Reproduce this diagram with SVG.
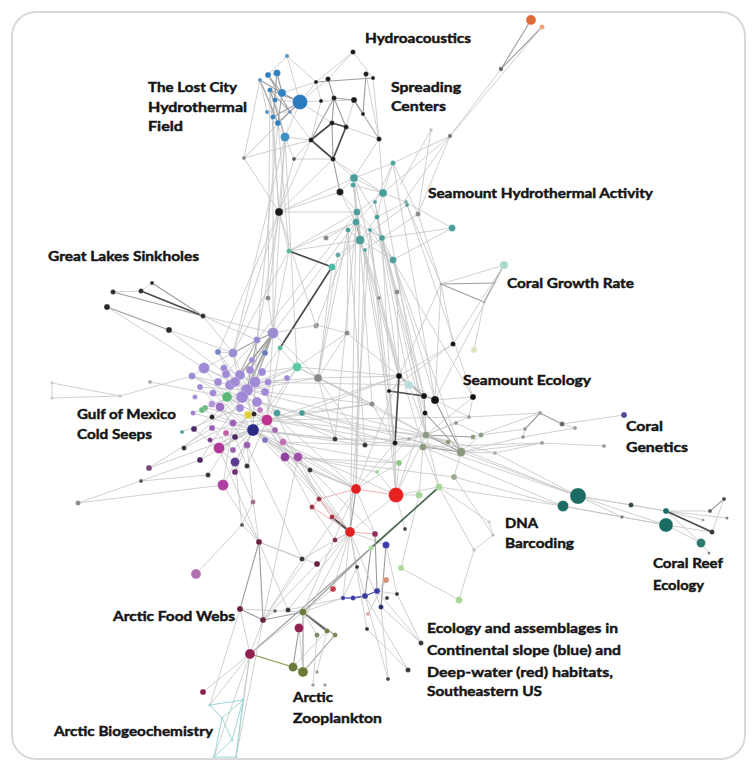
<svg xmlns="http://www.w3.org/2000/svg" width="752" height="765" viewBox="0 0 752 765">
<style>
.e line{stroke:#c4c4c4;stroke-width:.8}
line.m{stroke:#9c9c9c;stroke-width:1.1}
line.d{stroke:#4a4a4a;stroke-width:1.7}
line.p{stroke:#e6a8a8;stroke-width:.9}
line.b{stroke:#4848b0;stroke-width:1.3}
line.c{stroke:#9fd6d6;stroke-width:1}
line.o{stroke:#8a9a50;stroke-width:1.2}
line.g{stroke:#4e6a50;stroke-width:1.7}
circle{stroke:#fff;stroke-width:.4;stroke-opacity:.6}
.lbl{font-family:Lato,"Open Sans","Liberation Sans",sans-serif;font-weight:700;font-size:14px;fill:#151515;stroke:#151515;stroke-width:.45}
</style>
<rect x="12" y="12" width="733" height="747" rx="24" fill="#fff" stroke="#d9d9d9" stroke-width="2"/>
<g id="connectors" class="e">
<line x1="531" y1="20" x2="501" y2="69" class="m"/><line x1="542" y1="27" x2="501" y2="69" class="m"/><line x1="542" y1="27" x2="450" y2="136"/><line x1="501" y1="69" x2="450" y2="136"/><line x1="450" y1="136" x2="393" y2="163"/><line x1="450" y1="136" x2="383" y2="193"/><line x1="450" y1="136" x2="405" y2="200"/><line x1="431" y1="130" x2="400" y2="185"/><line x1="431" y1="130" x2="418" y2="214"/><line x1="450" y1="136" x2="418" y2="214"/>
<line x1="353" y1="52" x2="316" y2="82"/><line x1="353" y1="52" x2="328" y2="79"/><line x1="353" y1="52" x2="373" y2="78"/><line x1="316" y1="82" x2="373" y2="78" class="m"/><line x1="366" y1="74" x2="363" y2="114" class="m"/><line x1="373" y1="78" x2="379" y2="139"/><line x1="366" y1="74" x2="379" y2="139"/><line x1="328" y1="79" x2="334" y2="98" class="m"/><line x1="316" y1="82" x2="321" y2="101"/><line x1="321" y1="101" x2="354" y2="100"/><line x1="334" y1="98" x2="354" y2="100" class="m"/><line x1="354" y1="100" x2="363" y2="114" class="m"/><line x1="354" y1="100" x2="379" y2="139" class="m"/><line x1="363" y1="114" x2="379" y2="139"/><line x1="334" y1="98" x2="346" y2="127" class="m"/><line x1="321" y1="101" x2="311" y2="140"/><line x1="334" y1="98" x2="311" y2="140" class="m"/><line x1="354" y1="100" x2="346" y2="127"/><line x1="311" y1="140" x2="294" y2="159"/><line x1="294" y1="159" x2="333" y2="159"/><line x1="244" y1="158" x2="311" y2="140"/><line x1="244" y1="158" x2="300" y2="102"/><line x1="244" y1="158" x2="279" y2="212"/><line x1="244" y1="158" x2="290" y2="112"/><line x1="333" y1="159" x2="340" y2="192" class="m"/><line x1="333" y1="159" x2="354" y2="178"/><line x1="333" y1="159" x2="383" y2="193"/><line x1="379" y1="139" x2="383" y2="193"/><line x1="379" y1="139" x2="354" y2="178"/><line x1="346" y1="127" x2="379" y2="139"/><line x1="311" y1="140" x2="279" y2="212"/><line x1="294" y1="159" x2="279" y2="212"/><line x1="333" y1="159" x2="279" y2="212"/><line x1="340" y1="192" x2="279" y2="212"/><line x1="340" y1="192" x2="357" y2="212"/><line x1="340" y1="192" x2="354" y2="178"/><line x1="316" y1="82" x2="300" y2="102"/><line x1="316" y1="82" x2="282" y2="93"/><line x1="328" y1="79" x2="300" y2="102"/><line x1="287" y1="56" x2="316" y2="82"/><line x1="300" y1="102" x2="321" y2="101"/><line x1="290" y1="112" x2="311" y2="140"/><line x1="285" y1="137" x2="311" y2="140"/><line x1="285" y1="137" x2="294" y2="159"/><line x1="285" y1="137" x2="279" y2="212"/><line x1="270" y1="90" x2="279" y2="212"/><line x1="273" y1="117" x2="279" y2="212"/><line x1="300" y1="102" x2="332" y2="123"/>
<line x1="311" y1="140" x2="332" y2="123" class="d"/><line x1="332" y1="123" x2="346" y2="127" class="d"/><line x1="346" y1="127" x2="333" y2="159" class="d"/><line x1="311" y1="140" x2="333" y2="159" class="d"/><line x1="332" y1="123" x2="333" y2="159" class="m"/><line x1="334" y1="98" x2="332" y2="123" class="m"/>
<line x1="287" y1="56" x2="268" y2="75"/><line x1="287" y1="56" x2="300" y2="102"/><line x1="268" y1="75" x2="277" y2="73"/><line x1="277" y1="73" x2="282" y2="93" class="m"/><line x1="268" y1="75" x2="282" y2="93" class="m"/><line x1="260" y1="80" x2="282" y2="93" class="m"/><line x1="282" y1="93" x2="300" y2="102" class="m"/><line x1="270" y1="90" x2="300" y2="102" class="m"/><line x1="270" y1="90" x2="285" y2="137" class="m"/><line x1="273" y1="117" x2="300" y2="102" class="m"/><line x1="278" y1="123" x2="300" y2="102" class="m"/><line x1="267" y1="112" x2="290" y2="112"/><line x1="282" y1="93" x2="278" y2="123" class="m"/><line x1="285" y1="137" x2="300" y2="102"/><line x1="260" y1="80" x2="278" y2="123" class="m"/><line x1="268" y1="75" x2="290" y2="112" class="m"/><line x1="277" y1="73" x2="273" y2="117" class="m"/><line x1="275" y1="100" x2="300" y2="102"/><line x1="260" y1="80" x2="267" y2="112"/><line x1="270" y1="90" x2="290" y2="112" class="m"/><line x1="275" y1="100" x2="285" y2="137"/><line x1="267" y1="112" x2="285" y2="137"/>
<line x1="273" y1="117" x2="273" y2="333"/><line x1="278" y1="123" x2="257" y2="340"/><line x1="270" y1="90" x2="268" y2="298"/><line x1="285" y1="137" x2="273" y2="333"/><line x1="260" y1="80" x2="244" y2="158"/><line x1="285" y1="137" x2="233" y2="353"/><line x1="278" y1="123" x2="289" y2="251"/><line x1="285" y1="137" x2="297" y2="367"/>
<line x1="354" y1="178" x2="383" y2="193"/><line x1="354" y1="178" x2="357" y2="212"/><line x1="354" y1="178" x2="356" y2="222"/><line x1="383" y1="193" x2="357" y2="212"/><line x1="383" y1="193" x2="377" y2="217"/><line x1="383" y1="193" x2="393" y2="163"/><line x1="393" y1="163" x2="375" y2="202"/><line x1="357" y1="212" x2="360" y2="240" class="m"/><line x1="356" y1="222" x2="360" y2="240" class="m"/><line x1="377" y1="217" x2="382" y2="238"/><line x1="370" y1="230" x2="382" y2="238"/><line x1="360" y1="240" x2="393" y2="260"/><line x1="382" y1="238" x2="393" y2="260"/><line x1="375" y1="202" x2="356" y2="222"/><line x1="406" y1="202" x2="377" y2="217"/><line x1="407" y1="205" x2="360" y2="240"/><line x1="418" y1="214" x2="382" y2="238"/><line x1="452" y1="228" x2="382" y2="238"/><line x1="452" y1="228" x2="393" y2="260"/><line x1="353" y1="185" x2="383" y2="193"/><line x1="348" y1="230" x2="360" y2="240"/><line x1="365" y1="250" x2="382" y2="238"/><line x1="340" y1="192" x2="356" y2="222"/><line x1="326" y1="238" x2="356" y2="222"/><line x1="338" y1="255" x2="360" y2="240"/><line x1="332" y1="267" x2="360" y2="240"/><line x1="289" y1="251" x2="360" y2="240"/><line x1="289" y1="251" x2="356" y2="222"/><line x1="289" y1="251" x2="357" y2="212"/><line x1="279" y1="212" x2="357" y2="212"/><line x1="279" y1="212" x2="354" y2="178"/><line x1="279" y1="212" x2="289" y2="251"/><line x1="393" y1="163" x2="418" y2="214"/><line x1="406" y1="202" x2="452" y2="228"/><line x1="383" y1="193" x2="406" y2="202"/><line x1="354" y1="178" x2="393" y2="163"/><line x1="370" y1="230" x2="393" y2="260"/><line x1="356" y1="222" x2="393" y2="260"/><line x1="357" y1="212" x2="382" y2="238"/><line x1="356" y1="222" x2="382" y2="238"/><line x1="360" y1="240" x2="377" y2="217"/><line x1="353" y1="185" x2="360" y2="240"/><line x1="375" y1="202" x2="382" y2="238"/><line x1="354" y1="178" x2="377" y2="217"/>
<line x1="360" y1="240" x2="399" y2="376"/><line x1="370" y1="230" x2="395" y2="443"/><line x1="382" y1="238" x2="424" y2="396"/><line x1="356" y1="222" x2="350" y2="532"/><line x1="365" y1="250" x2="389" y2="391"/><line x1="393" y1="260" x2="435" y2="400"/><line x1="360" y1="240" x2="379" y2="298"/><line x1="382" y1="238" x2="397" y2="292"/><line x1="348" y1="230" x2="347" y2="333"/><line x1="356" y1="222" x2="316" y2="326"/><line x1="338" y1="255" x2="318" y2="378"/><line x1="393" y1="260" x2="473" y2="397"/><line x1="418" y1="214" x2="441" y2="284"/><line x1="407" y1="205" x2="441" y2="284"/><line x1="379" y1="298" x2="399" y2="376"/><line x1="397" y1="292" x2="399" y2="376"/><line x1="347" y1="333" x2="399" y2="376"/><line x1="332" y1="267" x2="318" y2="378"/><line x1="360" y1="240" x2="356" y2="489"/><line x1="370" y1="230" x2="396" y2="495"/><line x1="382" y1="238" x2="426" y2="435"/><line x1="365" y1="250" x2="423" y2="447"/><line x1="356" y1="222" x2="273" y2="333"/><line x1="357" y1="212" x2="257" y2="340"/><line x1="279" y1="212" x2="233" y2="353"/><line x1="279" y1="212" x2="257" y2="340"/><line x1="279" y1="212" x2="218" y2="352"/>
<line x1="354" y1="178" x2="399" y2="376"/><line x1="357" y1="212" x2="395" y2="443"/><line x1="377" y1="217" x2="425" y2="413"/><line x1="393" y1="163" x2="435" y2="400"/><line x1="383" y1="193" x2="426" y2="435"/><line x1="360" y1="240" x2="372" y2="404"/><line x1="348" y1="230" x2="365" y2="445"/><line x1="356" y1="222" x2="335" y2="439"/><line x1="375" y1="202" x2="399" y2="376"/><line x1="393" y1="260" x2="424" y2="396"/><line x1="365" y1="250" x2="356" y2="489"/><line x1="370" y1="230" x2="350" y2="532"/><line x1="382" y1="238" x2="396" y2="495"/><line x1="393" y1="260" x2="461" y2="452"/><line x1="406" y1="202" x2="473" y2="397"/><line x1="377" y1="217" x2="409" y2="385"/><line x1="348" y1="230" x2="318" y2="378"/>
<line x1="441" y1="284" x2="494" y2="283" class="m"/><line x1="441" y1="284" x2="484" y2="302" class="m"/><line x1="441" y1="284" x2="504" y2="265"/><line x1="494" y1="283" x2="504" y2="265"/><line x1="484" y1="302" x2="504" y2="265" class="m"/><line x1="504" y1="265" x2="453" y2="344"/><line x1="453" y1="344" x2="399" y2="376"/><line x1="453" y1="344" x2="389" y2="391"/><line x1="441" y1="284" x2="435" y2="400"/><line x1="441" y1="284" x2="453" y2="344"/><line x1="484" y1="302" x2="474" y2="350"/><line x1="441" y1="284" x2="399" y2="376"/><line x1="504" y1="265" x2="435" y2="400"/>
<line x1="317" y1="325" x2="347" y2="333"/><line x1="316" y1="326" x2="279" y2="212"/><line x1="268" y1="298" x2="279" y2="212"/><line x1="268" y1="298" x2="273" y2="333"/><line x1="289" y1="251" x2="273" y2="333"/><line x1="289" y1="251" x2="233" y2="353"/>
<line x1="289" y1="251" x2="332" y2="267" class="d"/><line x1="332" y1="267" x2="280" y2="348" class="d"/>
<line x1="113" y1="292" x2="141" y2="291"/><line x1="113" y1="292" x2="203" y2="316" class="m"/><line x1="141" y1="291" x2="203" y2="316" class="d"/><line x1="152" y1="283" x2="203" y2="316" class="m"/><line x1="107" y1="307" x2="169" y2="330" class="m"/><line x1="169" y1="330" x2="233" y2="353"/><line x1="169" y1="330" x2="247" y2="390"/><line x1="203" y1="316" x2="273" y2="333"/><line x1="203" y1="316" x2="233" y2="353"/><line x1="203" y1="316" x2="257" y2="340"/><line x1="152" y1="283" x2="141" y2="291"/><line x1="107" y1="307" x2="204" y2="368"/>
<line x1="52" y1="383" x2="52" y2="398"/><line x1="52" y1="383" x2="120" y2="396"/><line x1="52" y1="398" x2="120" y2="396"/><line x1="120" y1="396" x2="192" y2="376"/><line x1="150" y1="382" x2="227" y2="397"/><line x1="78" y1="503" x2="200" y2="460"/><line x1="78" y1="503" x2="223" y2="485"/><line x1="141" y1="481" x2="208" y2="475"/><line x1="149" y1="468" x2="212" y2="428"/><line x1="149" y1="468" x2="235" y2="437"/>
<line x1="273" y1="333" x2="235" y2="382" class="m"/><line x1="273" y1="333" x2="247" y2="390" class="m"/><line x1="273" y1="333" x2="242" y2="397" class="m"/><line x1="273" y1="333" x2="255" y2="382" class="m"/><line x1="273" y1="333" x2="230" y2="385"/><line x1="257" y1="340" x2="235" y2="382" class="m"/><line x1="257" y1="340" x2="247" y2="390" class="m"/><line x1="257" y1="340" x2="227" y2="397"/><line x1="257" y1="340" x2="273" y2="333" class="m"/><line x1="233" y1="353" x2="257" y2="340" class="m"/><line x1="233" y1="353" x2="247" y2="390"/><line x1="233" y1="353" x2="204" y2="368"/><line x1="218" y1="352" x2="233" y2="353"/><line x1="265" y1="353" x2="255" y2="382"/><line x1="280" y1="348" x2="255" y2="382"/><line x1="280" y1="348" x2="297" y2="367"/><line x1="297" y1="367" x2="247" y2="390"/><line x1="297" y1="367" x2="318" y2="378"/><line x1="204" y1="368" x2="192" y2="376"/><line x1="204" y1="368" x2="235" y2="382"/><line x1="224" y1="368" x2="247" y2="390"/><line x1="192" y1="376" x2="242" y2="397"/><line x1="200" y1="387" x2="247" y2="390"/><line x1="213" y1="393" x2="257" y2="402"/><line x1="205" y1="408" x2="247" y2="390"/><line x1="220" y1="407" x2="253" y2="430"/><line x1="227" y1="397" x2="267" y2="420"/><line x1="242" y1="397" x2="267" y2="420"/><line x1="247" y1="390" x2="253" y2="430"/><line x1="255" y1="382" x2="253" y2="430"/><line x1="257" y1="402" x2="285" y2="457"/><line x1="265" y1="392" x2="298" y2="457"/><line x1="248" y1="415" x2="219" y2="448"/><line x1="253" y1="430" x2="219" y2="448"/><line x1="253" y1="430" x2="235" y2="462"/><line x1="253" y1="430" x2="285" y2="457"/><line x1="253" y1="430" x2="298" y2="457"/><line x1="267" y1="420" x2="298" y2="457"/><line x1="267" y1="420" x2="283" y2="442"/><line x1="233" y1="423" x2="223" y2="485"/><line x1="212" y1="428" x2="233" y2="450"/><line x1="235" y1="437" x2="247" y2="466"/><line x1="194" y1="429" x2="247" y2="390"/><line x1="184" y1="448" x2="247" y2="390"/><line x1="200" y1="460" x2="247" y2="390"/><line x1="208" y1="475" x2="248" y2="415"/><line x1="223" y1="485" x2="253" y2="430"/><line x1="235" y1="472" x2="253" y2="430"/><line x1="210" y1="440" x2="253" y2="430"/><line x1="182" y1="432" x2="240" y2="408"/><line x1="193" y1="413" x2="247" y2="390"/><line x1="202" y1="410" x2="253" y2="430"/><line x1="262" y1="372" x2="297" y2="367"/><line x1="240" y1="375" x2="273" y2="333" class="m"/><line x1="250" y1="370" x2="273" y2="333" class="m"/><line x1="218" y1="382" x2="257" y2="340"/><line x1="265" y1="440" x2="298" y2="457"/>
<line x1="204" y1="368" x2="247" y2="390"/><line x1="192" y1="376" x2="230" y2="385"/><line x1="218" y1="352" x2="247" y2="390"/><line x1="224" y1="368" x2="255" y2="382"/><line x1="240" y1="375" x2="265" y2="392"/><line x1="250" y1="370" x2="242" y2="397"/><line x1="213" y1="393" x2="253" y2="430"/><line x1="200" y1="387" x2="233" y2="423"/><line x1="193" y1="413" x2="253" y2="430"/><line x1="205" y1="408" x2="267" y2="420"/><line x1="220" y1="407" x2="247" y2="445"/><line x1="233" y1="423" x2="267" y2="420"/><line x1="219" y1="448" x2="267" y2="420"/><line x1="212" y1="428" x2="253" y2="430"/><line x1="235" y1="437" x2="267" y2="420"/><line x1="233" y1="450" x2="253" y2="430"/><line x1="200" y1="460" x2="253" y2="430"/><line x1="184" y1="448" x2="233" y2="423"/><line x1="194" y1="429" x2="235" y2="462"/><line x1="247" y1="466" x2="267" y2="420"/><line x1="283" y1="442" x2="298" y2="457"/><line x1="275" y1="430" x2="253" y2="430"/><line x1="277" y1="413" x2="247" y2="390"/><line x1="302" y1="413" x2="267" y2="420"/><line x1="287" y1="378" x2="247" y2="390"/><line x1="262" y1="372" x2="242" y2="397"/><line x1="265" y1="353" x2="247" y2="390"/><line x1="280" y1="348" x2="267" y2="420"/><line x1="297" y1="367" x2="267" y2="420"/><line x1="297" y1="367" x2="253" y2="430"/><line x1="273" y1="333" x2="267" y2="420"/><line x1="257" y1="340" x2="253" y2="430"/><line x1="233" y1="353" x2="242" y2="397"/><line x1="218" y1="352" x2="242" y2="397"/><line x1="204" y1="368" x2="253" y2="430"/><line x1="192" y1="376" x2="267" y2="420"/>
<line x1="253" y1="430" x2="335" y2="439"/><line x1="253" y1="430" x2="365" y2="445"/><line x1="267" y1="420" x2="372" y2="404"/><line x1="267" y1="420" x2="399" y2="376"/><line x1="255" y1="382" x2="318" y2="378"/><line x1="247" y1="390" x2="372" y2="404"/><line x1="247" y1="390" x2="426" y2="435"/><line x1="253" y1="430" x2="423" y2="447"/><line x1="267" y1="420" x2="461" y2="452"/><line x1="257" y1="402" x2="409" y2="439"/><line x1="253" y1="430" x2="356" y2="489"/><line x1="285" y1="457" x2="356" y2="489"/><line x1="298" y1="457" x2="350" y2="532"/><line x1="298" y1="457" x2="319" y2="499"/><line x1="285" y1="457" x2="312" y2="507"/><line x1="247" y1="445" x2="253" y2="502"/><line x1="235" y1="462" x2="253" y2="502"/><line x1="253" y1="430" x2="310" y2="470"/><line x1="302" y1="413" x2="399" y2="376"/><line x1="277" y1="413" x2="335" y2="439"/><line x1="318" y1="378" x2="372" y2="404"/><line x1="318" y1="378" x2="399" y2="376"/><line x1="273" y1="333" x2="317" y2="325"/><line x1="297" y1="367" x2="347" y2="333"/><line x1="318" y1="378" x2="365" y2="445"/><line x1="318" y1="378" x2="426" y2="435"/><line x1="318" y1="378" x2="347" y2="333"/><line x1="372" y1="404" x2="426" y2="435"/><line x1="372" y1="404" x2="395" y2="443"/><line x1="365" y1="445" x2="426" y2="435"/><line x1="335" y1="439" x2="409" y2="439"/><line x1="310" y1="470" x2="356" y2="489"/><line x1="267" y1="420" x2="469" y2="417"/><line x1="255" y1="382" x2="409" y2="385"/><line x1="283" y1="442" x2="423" y2="447"/><line x1="298" y1="457" x2="454" y2="477"/><line x1="285" y1="457" x2="399" y2="463"/><line x1="302" y1="413" x2="448" y2="442"/>
<line x1="247" y1="390" x2="356" y2="489"/><line x1="242" y1="397" x2="350" y2="532"/><line x1="253" y1="430" x2="396" y2="495"/><line x1="219" y1="448" x2="259" y2="542"/><line x1="223" y1="485" x2="259" y2="542"/><line x1="235" y1="462" x2="242" y2="525"/><line x1="298" y1="457" x2="263" y2="620"/><line x1="253" y1="430" x2="319" y2="499"/><line x1="267" y1="420" x2="332" y2="517"/><line x1="285" y1="457" x2="350" y2="532"/><line x1="247" y1="445" x2="302" y2="559"/><line x1="298" y1="457" x2="375" y2="534"/><line x1="283" y1="442" x2="356" y2="489"/><line x1="283" y1="442" x2="399" y2="463"/><line x1="298" y1="457" x2="377" y2="472"/><line x1="265" y1="440" x2="310" y2="470"/><line x1="277" y1="413" x2="365" y2="445"/><line x1="302" y1="413" x2="372" y2="404"/><line x1="297" y1="367" x2="399" y2="376"/><line x1="297" y1="367" x2="372" y2="404"/><line x1="318" y1="378" x2="335" y2="439"/><line x1="273" y1="333" x2="318" y2="378"/><line x1="247" y1="390" x2="318" y2="378"/><line x1="255" y1="382" x2="297" y2="367"/><line x1="267" y1="420" x2="426" y2="435"/><line x1="242" y1="397" x2="395" y2="443"/>
<line x1="399" y1="376" x2="395" y2="443" class="d"/><line x1="389" y1="391" x2="424" y2="396" class="d"/><line x1="424" y1="396" x2="435" y2="400" class="m"/><line x1="424" y1="396" x2="425" y2="413" class="m"/><line x1="399" y1="376" x2="424" y2="396" class="m"/><line x1="399" y1="376" x2="409" y2="385"/><line x1="435" y1="400" x2="473" y2="397"/><line x1="424" y1="396" x2="426" y2="435"/><line x1="425" y1="413" x2="426" y2="435"/><line x1="425" y1="413" x2="461" y2="452" class="m"/><line x1="395" y1="443" x2="426" y2="435"/><line x1="395" y1="443" x2="423" y2="447"/><line x1="389" y1="391" x2="395" y2="443"/><line x1="435" y1="400" x2="461" y2="452" class="m"/><line x1="399" y1="376" x2="435" y2="400"/>
<line x1="399" y1="376" x2="356" y2="489"/><line x1="395" y1="443" x2="396" y2="495"/><line x1="395" y1="443" x2="356" y2="489"/><line x1="425" y1="413" x2="396" y2="495"/><line x1="426" y1="435" x2="396" y2="495"/><line x1="423" y1="447" x2="419" y2="495"/><line x1="426" y1="435" x2="399" y2="463"/><line x1="409" y1="439" x2="377" y2="472"/>
<line x1="426" y1="435" x2="461" y2="452" class="m"/><line x1="426" y1="435" x2="473" y2="437" class="m"/><line x1="423" y1="447" x2="461" y2="452" class="m"/><line x1="461" y1="452" x2="481" y2="435"/><line x1="456" y1="423" x2="426" y2="435"/><line x1="456" y1="423" x2="481" y2="435"/><line x1="448" y1="442" x2="426" y2="435"/><line x1="461" y1="452" x2="454" y2="477"/><line x1="426" y1="435" x2="439" y2="487"/><line x1="423" y1="447" x2="439" y2="487"/><line x1="409" y1="439" x2="461" y2="452"/><line x1="426" y1="435" x2="495" y2="453"/><line x1="461" y1="452" x2="495" y2="453"/><line x1="473" y1="437" x2="540" y2="413"/><line x1="481" y1="435" x2="525" y2="429"/><line x1="461" y1="452" x2="523" y2="437"/><line x1="423" y1="447" x2="542" y2="443"/><line x1="461" y1="452" x2="542" y2="443"/><line x1="469" y1="417" x2="540" y2="413"/><line x1="469" y1="417" x2="435" y2="400"/><line x1="469" y1="417" x2="426" y2="435"/><line x1="540" y1="413" x2="525" y2="429" class="m"/><line x1="540" y1="413" x2="562" y2="424" class="m"/><line x1="562" y1="424" x2="575" y2="428"/><line x1="562" y1="424" x2="624" y2="415"/><line x1="523" y1="437" x2="575" y2="428"/><line x1="542" y1="443" x2="604" y2="446"/><line x1="525" y1="429" x2="523" y2="437"/><line x1="495" y1="453" x2="542" y2="443"/><line x1="473" y1="397" x2="469" y2="417"/><line x1="473" y1="397" x2="426" y2="435"/><line x1="409" y1="385" x2="426" y2="435"/>
<line x1="426" y1="435" x2="578" y2="496"/><line x1="423" y1="447" x2="563" y2="506"/><line x1="461" y1="452" x2="578" y2="496"/><line x1="454" y1="477" x2="563" y2="506"/><line x1="439" y1="487" x2="563" y2="506"/><line x1="409" y1="439" x2="578" y2="496"/><line x1="495" y1="453" x2="578" y2="496"/><line x1="578" y1="496" x2="631" y2="505"/><line x1="578" y1="496" x2="622" y2="517"/><line x1="578" y1="496" x2="666" y2="511"/><line x1="578" y1="496" x2="666" y2="525"/><line x1="563" y1="506" x2="666" y2="525"/><line x1="563" y1="506" x2="622" y2="517"/><line x1="631" y1="505" x2="666" y2="511"/><line x1="622" y1="517" x2="666" y2="525"/><line x1="666" y1="511" x2="710" y2="511"/><line x1="710" y1="511" x2="724" y2="499" class="m"/><line x1="666" y1="511" x2="727" y2="518"/><line x1="666" y1="511" x2="703" y2="520"/><line x1="666" y1="525" x2="701" y2="543"/><line x1="666" y1="525" x2="712" y2="532"/><line x1="666" y1="511" x2="701" y2="543"/><line x1="701" y1="543" x2="709" y2="553"/><line x1="724" y1="499" x2="712" y2="532"/><line x1="666" y1="511" x2="712" y2="532" class="d"/>
<line x1="439" y1="487" x2="489" y2="522"/><line x1="454" y1="477" x2="493" y2="535"/><line x1="439" y1="487" x2="474" y2="550"/><line x1="474" y1="550" x2="493" y2="535"/><line x1="493" y1="535" x2="489" y2="522"/><line x1="474" y1="550" x2="459" y2="600"/><line x1="401" y1="568" x2="459" y2="600"/><line x1="419" y1="495" x2="401" y2="568"/>
<line x1="356" y1="489" x2="396" y2="495" class="p"/><line x1="356" y1="489" x2="350" y2="532" class="m"/><line x1="319" y1="499" x2="350" y2="532" class="p"/><line x1="312" y1="507" x2="350" y2="532" class="p"/><line x1="332" y1="517" x2="350" y2="532" class="d"/><line x1="396" y1="495" x2="350" y2="532"/><line x1="356" y1="489" x2="375" y2="534"/><line x1="350" y1="532" x2="375" y2="534" class="p"/><line x1="319" y1="499" x2="356" y2="489" class="p"/><line x1="396" y1="495" x2="419" y2="495"/><line x1="396" y1="495" x2="439" y2="487"/><line x1="356" y1="489" x2="399" y2="463"/><line x1="396" y1="495" x2="399" y2="463"/><line x1="396" y1="495" x2="377" y2="472"/><line x1="350" y1="532" x2="335" y2="540" class="p"/><line x1="350" y1="532" x2="357" y2="567"/><line x1="350" y1="532" x2="386" y2="545"/><line x1="375" y1="534" x2="386" y2="545"/><line x1="396" y1="495" x2="405" y2="529"/><line x1="356" y1="489" x2="310" y2="470"/><line x1="319" y1="499" x2="312" y2="507" class="p"/><line x1="319" y1="499" x2="332" y2="517" class="p"/><line x1="312" y1="507" x2="335" y2="540"/>
<line x1="439" y1="487" x2="371" y2="548" class="g"/><line x1="371" y1="548" x2="250" y2="654" class="m"/>
<line x1="343" y1="598" x2="353" y2="598" class="b"/><line x1="353" y1="598" x2="365" y2="596" class="b"/><line x1="365" y1="596" x2="377" y2="591" class="b"/><line x1="377" y1="591" x2="397" y2="594"/><line x1="381" y1="607" x2="421" y2="643"/><line x1="377" y1="591" x2="421" y2="643"/><line x1="367" y1="629" x2="408" y2="670"/><line x1="357" y1="567" x2="388" y2="679"/><line x1="365" y1="596" x2="408" y2="670"/><line x1="381" y1="607" x2="388" y2="679"/><line x1="386" y1="545" x2="381" y2="607" class="m"/><line x1="371" y1="548" x2="365" y2="596" class="m"/><line x1="357" y1="567" x2="343" y2="598"/><line x1="375" y1="534" x2="377" y2="591" class="m"/><line x1="386" y1="580" x2="377" y2="591"/><line x1="350" y1="532" x2="343" y2="598"/><line x1="368" y1="614" x2="386" y2="580"/><line x1="397" y1="594" x2="421" y2="643"/><line x1="386" y1="545" x2="397" y2="594"/><line x1="350" y1="532" x2="381" y2="607"/><line x1="350" y1="532" x2="367" y2="629"/>
<line x1="259" y1="542" x2="240" y2="609" class="m"/><line x1="259" y1="542" x2="263" y2="620" class="m"/><line x1="259" y1="542" x2="288" y2="610"/><line x1="259" y1="542" x2="302" y2="559"/><line x1="240" y1="609" x2="263" y2="620" class="m"/><line x1="263" y1="620" x2="303" y2="612" class="m"/><line x1="263" y1="620" x2="275" y2="611"/><line x1="303" y1="612" x2="327" y2="631" class="d"/><line x1="303" y1="612" x2="335" y2="635" class="m"/><line x1="303" y1="612" x2="317" y2="635"/><line x1="303" y1="612" x2="303" y2="672" class="m"/><line x1="299" y1="628" x2="293" y2="667" class="m"/><line x1="299" y1="628" x2="303" y2="672"/><line x1="327" y1="631" x2="293" y2="667"/><line x1="335" y1="635" x2="303" y2="672" class="m"/><line x1="317" y1="635" x2="313" y2="685"/><line x1="327" y1="631" x2="317" y2="672"/><line x1="250" y1="654" x2="293" y2="667" class="o"/><line x1="293" y1="667" x2="303" y2="672" class="o"/><line x1="240" y1="609" x2="250" y2="654"/><line x1="263" y1="620" x2="250" y2="654"/><line x1="302" y1="559" x2="350" y2="532"/><line x1="317" y1="564" x2="350" y2="532"/><line x1="317" y1="564" x2="263" y2="620"/><line x1="302" y1="559" x2="263" y2="620"/><line x1="242" y1="525" x2="259" y2="542"/><line x1="253" y1="502" x2="259" y2="542"/><line x1="242" y1="525" x2="196" y2="574"/><line x1="253" y1="502" x2="242" y2="525"/><line x1="288" y1="610" x2="343" y2="598"/><line x1="303" y1="612" x2="343" y2="598"/><line x1="333" y1="589" x2="303" y2="612"/><line x1="333" y1="589" x2="350" y2="532"/><line x1="250" y1="654" x2="203" y2="692"/><line x1="250" y1="654" x2="210" y2="705"/><line x1="250" y1="654" x2="243" y2="700"/><line x1="250" y1="654" x2="214" y2="757"/><line x1="250" y1="654" x2="236" y2="757"/><line x1="263" y1="620" x2="236" y2="757"/><line x1="240" y1="609" x2="210" y2="705"/><line x1="303" y1="612" x2="356" y2="489"/><line x1="263" y1="620" x2="356" y2="489"/><line x1="288" y1="610" x2="350" y2="532"/><line x1="259" y1="542" x2="317" y2="564"/><line x1="303" y1="612" x2="371" y2="548" class="m"/><line x1="299" y1="628" x2="350" y2="532"/><line x1="240" y1="609" x2="303" y2="612"/><line x1="250" y1="654" x2="303" y2="612"/>
<line x1="210" y1="705" x2="222" y2="718" class="c"/><line x1="222" y1="718" x2="243" y2="700" class="c"/><line x1="210" y1="705" x2="243" y2="700" class="c"/><line x1="222" y1="718" x2="232" y2="740" class="c"/><line x1="232" y1="740" x2="243" y2="700" class="c"/><line x1="243" y1="700" x2="236" y2="757" class="c"/><line x1="222" y1="718" x2="214" y2="757" class="c"/><line x1="214" y1="757" x2="236" y2="757" class="c"/><line x1="232" y1="740" x2="214" y2="757" class="c"/>
</g>
<g id="n-hydroacoustics">
<circle cx="531" cy="20" r="5" fill="#e06a35"/><circle cx="542" cy="27" r="2.5" fill="#e8a070"/><circle cx="501" cy="69" r="2.2" fill="#666"/><circle cx="450" cy="136" r="2.2" fill="#777"/><circle cx="431" cy="130" r="1.8" fill="#bbb"/>
<text class="lbl" x="365" y="43" textLength="106" lengthAdjust="spacingAndGlyphs">Hydroacoustics</text>
</g>
<g id="n-lostcity" fill="#2e80c0">
<circle cx="287" cy="56" r="2.2" fill="#5a9ac8"/><circle cx="268" cy="75" r="3"/><circle cx="277" cy="73" r="3.5"/><circle cx="260" cy="80" r="2" fill="#4a8cc0"/><circle cx="282" cy="93" r="4"/><circle cx="300" cy="102" r="7.5" fill="#2a7abd"/><circle cx="270" cy="90" r="2.5" fill="#3a80b8"/><circle cx="285" cy="137" r="4.5" fill="#3d8fc4"/><circle cx="273" cy="117" r="2.5" fill="#3a80b8"/><circle cx="278" cy="123" r="3"/><circle cx="267" cy="112" r="2" fill="#4a8cc0"/><circle cx="290" cy="112" r="2" fill="#6a8fb0"/><circle cx="275" cy="100" r="2.5" fill="#3a7ab0"/>
<text class="lbl" x="148" y="92" textLength="89" lengthAdjust="spacingAndGlyphs">The Lost City</text>
<text class="lbl" x="148" y="112" textLength="99" lengthAdjust="spacingAndGlyphs">Hydrothermal</text>
<text class="lbl" x="148" y="131" textLength="35" lengthAdjust="spacingAndGlyphs">Field</text>
</g>
<g id="n-spreading" fill="#1a1a1a">
<circle cx="353" cy="52" r="2.5"/><circle cx="316" cy="82" r="2"/><circle cx="328" cy="79" r="2.5"/><circle cx="366" cy="74" r="2.5"/><circle cx="373" cy="78" r="2"/><circle cx="321" cy="101" r="2"/><circle cx="334" cy="98" r="2.5"/><circle cx="354" cy="100" r="3"/><circle cx="363" cy="114" r="2"/><circle cx="332" cy="123" r="2.5"/><circle cx="346" cy="127" r="2.5"/><circle cx="311" cy="140" r="2.5"/><circle cx="333" cy="159" r="2.5"/><circle cx="379" cy="139" r="2.5"/><circle cx="294" cy="159" r="2" fill="#555"/><circle cx="340" cy="192" r="3.5"/><circle cx="279" cy="212" r="4"/><circle cx="244" cy="158" r="2" fill="#888"/>
<text class="lbl" x="391" y="92" textLength="70" lengthAdjust="spacingAndGlyphs">Spreading</text>
<text class="lbl" x="391" y="111" textLength="55" lengthAdjust="spacingAndGlyphs">Centers</text>
</g>
<g id="n-seamount-hydrothermal" fill="#4a9e9a">
<circle cx="354" cy="178" r="4"/><circle cx="383" cy="193" r="4"/><circle cx="393" cy="163" r="2.5"/><circle cx="357" cy="212" r="3.5"/><circle cx="356" cy="222" r="3.5"/><circle cx="377" cy="217" r="2.5"/><circle cx="360" cy="240" r="4.5"/><circle cx="370" cy="230" r="2"/><circle cx="382" cy="238" r="3"/><circle cx="393" cy="260" r="3.5"/><circle cx="375" cy="202" r="2"/><circle cx="406" cy="202" r="2" fill="#7aa"/><circle cx="407" cy="205" r="2"/><circle cx="418" cy="214" r="2.5" fill="#888"/><circle cx="452" cy="228" r="3.5"/><circle cx="353" cy="185" r="2.5"/><circle cx="365" cy="250" r="2"/><circle cx="348" cy="230" r="2.5"/>
<circle cx="289" cy="251" r="2.5" fill="#5ab890"/><circle cx="332" cy="267" r="3.5" fill="#48b8a0"/><circle cx="338" cy="255" r="2.5" fill="#60a8a0"/>
<circle cx="326" cy="238" r="2.5" fill="#888"/><circle cx="397" cy="292" r="2.5" fill="#888"/><circle cx="379" cy="298" r="2" fill="#888"/><circle cx="316" cy="326" r="2.5" fill="#888"/><circle cx="347" cy="333" r="2.5" fill="#888"/><circle cx="318" cy="378" r="4" fill="#888"/><circle cx="268" cy="298" r="2.5" fill="#888"/>
<text class="lbl" x="428" y="198" textLength="225" lengthAdjust="spacingAndGlyphs">Seamount Hydrothermal Activity</text>
</g>
<g id="n-coral-growth">
<circle cx="504" cy="265" r="4" fill="#a8d8d0"/><circle cx="441" cy="284" r="1.5" fill="#999"/><circle cx="494" cy="283" r="1.5" fill="#aaa"/><circle cx="484" cy="302" r="1.5" fill="#aaa"/><circle cx="453" cy="344" r="2.5" fill="#111"/><circle cx="474" cy="350" r="3" fill="#dfe2b8"/>
<text class="lbl" x="507" y="288" textLength="127" lengthAdjust="spacingAndGlyphs">Coral Growth Rate</text>
</g>
<g id="n-seamount-ecology" fill="#111">
<circle cx="409" cy="385" r="4" fill="#b8dcdc"/><circle cx="399" cy="376" r="3"/><circle cx="389" cy="391" r="2"/><circle cx="424" cy="396" r="3"/><circle cx="435" cy="400" r="4"/><circle cx="473" cy="397" r="3"/><circle cx="425" cy="413" r="2.5"/><circle cx="395" cy="443" r="2.5"/><circle cx="372" cy="404" r="2.5" fill="#888"/><circle cx="365" cy="445" r="2.5" fill="#333"/><circle cx="335" cy="439" r="2.5" fill="#333"/><circle cx="310" cy="470" r="2.5" fill="#333"/>
<text class="lbl" x="463" y="385" textLength="128" lengthAdjust="spacingAndGlyphs">Seamount Ecology</text>
</g>
<g id="n-coral-genetics" fill="#999">
<circle cx="624" cy="415" r="3" fill="#4a4a9a"/><circle cx="540" cy="413" r="2"/><circle cx="562" cy="424" r="2.5" fill="#666"/><circle cx="575" cy="428" r="2"/><circle cx="525" cy="429" r="2"/><circle cx="523" cy="437" r="2"/><circle cx="542" cy="443" r="2"/><circle cx="604" cy="446" r="2"/><circle cx="495" cy="453" r="2" fill="#aaa"/><circle cx="469" cy="417" r="2"/>
<text class="lbl" x="626" y="431" textLength="37" lengthAdjust="spacingAndGlyphs">Coral</text>
<text class="lbl" x="626" y="452" textLength="62" lengthAdjust="spacingAndGlyphs">Genetics</text>
</g>
<g id="n-olive" fill="#8a9a80">
<circle cx="426" cy="435" r="3.5"/><circle cx="423" cy="447" r="3.5"/><circle cx="461" cy="452" r="4.5"/><circle cx="473" cy="437" r="2.5"/><circle cx="481" cy="435" r="2.5"/><circle cx="456" cy="423" r="2"/><circle cx="409" cy="439" r="2" fill="#aaa"/><circle cx="454" cy="477" r="3" fill="#9aa890"/><circle cx="448" cy="442" r="2.5"/>
</g>
<g id="n-dna-barcoding" fill="#a8d898">
<circle cx="439" cy="487" r="3.5"/><circle cx="419" cy="495" r="3.5"/><circle cx="399" cy="463" r="3" fill="#88c888"/><circle cx="377" cy="472" r="2" fill="#a0d0a0"/><circle cx="371" cy="548" r="2.5"/><circle cx="401" cy="568" r="3"/><circle cx="459" cy="600" r="3.5"/><circle cx="474" cy="550" r="1.8" fill="#bbb"/><circle cx="493" cy="535" r="1.8" fill="#bbb"/><circle cx="489" cy="522" r="1.8" fill="#ccc"/>
<text class="lbl" x="505" y="528" textLength="33" lengthAdjust="spacingAndGlyphs">DNA</text>
<text class="lbl" x="505" y="548" textLength="69" lengthAdjust="spacingAndGlyphs">Barcoding</text>
</g>
<g id="n-coral-reef" fill="#1a6b63">
<circle cx="578" cy="496" r="8"/><circle cx="563" cy="506" r="5.5"/><circle cx="631" cy="505" r="2.5" fill="#2a4a48"/><circle cx="622" cy="517" r="1.8" fill="#777"/><circle cx="666" cy="511" r="3"/><circle cx="666" cy="525" r="7"/><circle cx="701" cy="543" r="4.5" fill="#2a7a72"/><circle cx="712" cy="532" r="2.5" fill="#333"/><circle cx="710" cy="511" r="2" fill="#555"/><circle cx="724" cy="499" r="2" fill="#444"/><circle cx="703" cy="520" r="1.5" fill="#999"/><circle cx="727" cy="518" r="1.5" fill="#777"/><circle cx="709" cy="553" r="1.5" fill="#777"/>
<text class="lbl" x="653" y="568" textLength="70" lengthAdjust="spacingAndGlyphs">Coral Reef</text>
<text class="lbl" x="653" y="590" textLength="51" lengthAdjust="spacingAndGlyphs">Ecology</text>
</g>
<g id="n-great-lakes" fill="#2a2a2a">
<circle cx="113" cy="292" r="2.5"/><circle cx="141" cy="291" r="2.5"/><circle cx="152" cy="283" r="2"/><circle cx="107" cy="307" r="3"/><circle cx="169" cy="330" r="3"/><circle cx="203" cy="316" r="2.5"/><circle cx="317" cy="325" r="2.2" fill="#999"/>
<text class="lbl" x="48" y="261" textLength="151" lengthAdjust="spacingAndGlyphs">Great Lakes Sinkholes</text>
</g>
<g id="n-gulf-of-mexico" fill="#a08ad6">
<circle cx="52" cy="383" r="1.8" fill="#ccc"/><circle cx="52" cy="398" r="1.8" fill="#ccc"/><circle cx="120" cy="396" r="2" fill="#ccc"/><circle cx="150" cy="382" r="2" fill="#aaa"/>
<circle cx="273" cy="333" r="5.5" fill="#9a8ccf"/><circle cx="257" cy="340" r="3.5" fill="#9a8ccf"/><circle cx="233" cy="353" r="4.5" fill="#9a8ccf"/><circle cx="218" cy="352" r="3" fill="#7a80c8"/><circle cx="265" cy="353" r="3" fill="#6a7ac0"/><circle cx="280" cy="348" r="2.5" fill="#5ab890"/><circle cx="297" cy="367" r="4.5" fill="#5ec8a0"/>
<circle cx="204" cy="368" r="5.5"/><circle cx="192" cy="376" r="3.5"/><circle cx="224" cy="368" r="3.5"/><circle cx="240" cy="375" r="5"/><circle cx="250" cy="370" r="4"/><circle cx="262" cy="372" r="4"/><circle cx="218" cy="382" r="4"/><circle cx="230" cy="385" r="5"/><circle cx="235" cy="382" r="5"/><circle cx="255" cy="382" r="5.5"/><circle cx="247" cy="390" r="6"/><circle cx="242" cy="397" r="6"/><circle cx="265" cy="392" r="4"/><circle cx="257" cy="402" r="5"/><circle cx="240" cy="408" r="4"/><circle cx="200" cy="387" r="3"/><circle cx="213" cy="393" r="3.5"/><circle cx="195" cy="397" r="2.5"/><circle cx="287" cy="378" r="3"/><circle cx="193" cy="413" r="2.5" fill="#9a80c8"/><circle cx="226" cy="374" r="4"/><circle cx="268" cy="382" r="3.5"/><circle cx="252" cy="360" r="3"/><circle cx="212" cy="404" r="3.5" fill="#b09ad8"/>
<circle cx="227" cy="397" r="5" fill="#5cb878"/><circle cx="220" cy="407" r="4.5" fill="#9a70c0"/><circle cx="205" cy="408" r="3" fill="#6ab880"/><circle cx="202" cy="410" r="3" fill="#6ab880"/><circle cx="182" cy="432" r="2" fill="#4aa0a0"/>
<circle cx="248" cy="415" r="4" fill="#e0d040"/><circle cx="254" cy="414" r="2.5" fill="#222"/><circle cx="260" cy="410" r="3" fill="#c080c0"/><circle cx="267" cy="420" r="5.5" fill="#c03090"/><circle cx="253" cy="430" r="6" fill="#2a2a85"/><circle cx="233" cy="423" r="3.5" fill="#9a60b0"/><circle cx="212" cy="417" r="2.5" fill="#222"/><circle cx="194" cy="429" r="3" fill="#4a2a60"/><circle cx="212" cy="428" r="3" fill="#9a60b0"/><circle cx="226" cy="433" r="3" fill="#c060a0"/><circle cx="210" cy="440" r="2.5" fill="#7a3a8a"/><circle cx="275" cy="430" r="3" fill="#a06ab0"/><circle cx="265" cy="440" r="3" fill="#8a70c0"/>
<circle cx="219" cy="448" r="5.5" fill="#b03898"/><circle cx="235" cy="437" r="3" fill="#4a2a60"/><circle cx="233" cy="450" r="3" fill="#9a60b0"/><circle cx="247" cy="445" r="3.5" fill="#9a60b0"/><circle cx="235" cy="462" r="4.5" fill="#5a3a90"/><circle cx="200" cy="460" r="3" fill="#4a2a60"/><circle cx="184" cy="448" r="2.5" fill="#333"/><circle cx="285" cy="457" r="4.5" fill="#9040a0"/><circle cx="298" cy="457" r="4.5" fill="#a050a8"/><circle cx="283" cy="442" r="3.5" fill="#c070b0"/><circle cx="247" cy="466" r="2.5" fill="#333"/><circle cx="235" cy="472" r="3" fill="#6a3070"/><circle cx="223" cy="485" r="5.5" fill="#b040a0"/><circle cx="208" cy="475" r="2.5" fill="#333"/><circle cx="277" cy="413" r="3.5" fill="#4a9a98"/><circle cx="302" cy="413" r="3" fill="#4a9a98"/><circle cx="149" cy="468" r="3" fill="#7a4a7a"/><circle cx="141" cy="481" r="2" fill="#555"/>
<text class="lbl" x="77" y="419" textLength="99" lengthAdjust="spacingAndGlyphs">Gulf of Mexico</text>
<text class="lbl" x="77" y="439" textLength="75" lengthAdjust="spacingAndGlyphs">Cold Seeps</text>
</g>
<g id="n-continental-slope">
<circle cx="356" cy="489" r="5" fill="#e02020"/><circle cx="396" cy="495" r="7.5" fill="#e82020"/><circle cx="350" cy="532" r="5" fill="#dd2222"/><circle cx="319" cy="499" r="2.5" fill="#a03040"/><circle cx="312" cy="507" r="2.5" fill="#a03040"/><circle cx="332" cy="517" r="2.5" fill="#a03040"/><circle cx="335" cy="540" r="2.5" fill="#803040"/><circle cx="375" cy="534" r="3" fill="#903060"/><circle cx="405" cy="529" r="2" fill="#444"/><circle cx="386" cy="545" r="3.5" fill="#3a3aa8"/><circle cx="333" cy="589" r="3" fill="#c04050"/><circle cx="386" cy="580" r="3" fill="#d09070"/><circle cx="357" cy="567" r="2" fill="#333"/>
<circle cx="343" cy="598" r="2.2" fill="#3a3aa0"/><circle cx="353" cy="598" r="2.5" fill="#3a3aa0"/><circle cx="365" cy="596" r="3" fill="#3a3aa0"/><circle cx="377" cy="591" r="3" fill="#3a3aa0"/><circle cx="387" cy="598" r="2" fill="#333"/><circle cx="397" cy="594" r="2" fill="#333"/><circle cx="381" cy="607" r="2.5" fill="#2a2a70"/><circle cx="368" cy="614" r="2" fill="#e0a0a0"/><circle cx="367" cy="629" r="2" fill="#333"/><circle cx="421" cy="643" r="2.5" fill="#333"/><circle cx="408" cy="670" r="2.5" fill="#333"/><circle cx="388" cy="679" r="2" fill="#444"/>
<text class="lbl" x="427" y="633" textLength="191" lengthAdjust="spacingAndGlyphs">Ecology and assemblages in</text>
<text class="lbl" x="427" y="655" textLength="194" lengthAdjust="spacingAndGlyphs">Continental slope (blue) and</text>
<text class="lbl" x="427" y="677" textLength="186" lengthAdjust="spacingAndGlyphs">Deep-water (red) habitats,</text>
<text class="lbl" x="427" y="696" textLength="115" lengthAdjust="spacingAndGlyphs">Southeastern US</text>
</g>
<g id="n-arctic-food-webs" fill="#6a2040">
<circle cx="78" cy="503" r="2.5" fill="#888"/><circle cx="253" cy="502" r="2.5" fill="#a07090"/><circle cx="242" cy="525" r="2" fill="#555"/><circle cx="259" cy="542" r="3"/><circle cx="302" cy="559" r="2.5" fill="#333"/><circle cx="317" cy="564" r="3"/><circle cx="196" cy="574" r="5" fill="#b070b0"/><circle cx="240" cy="609" r="3"/><circle cx="263" cy="620" r="3"/><circle cx="288" cy="610" r="2.5" fill="#333"/><circle cx="275" cy="611" r="1.8" fill="#555"/><circle cx="299" cy="628" r="4.5" fill="#902050"/><circle cx="250" cy="654" r="5" fill="#902050"/><circle cx="203" cy="692" r="3" fill="#8a2050"/>
<text class="lbl" x="113" y="621" textLength="122" lengthAdjust="spacingAndGlyphs">Arctic Food Webs</text>
</g>
<g id="n-arctic-zooplankton" fill="#6a7a38">
<circle cx="303" cy="612" r="3.5"/><circle cx="317" cy="635" r="2.5" fill="#7a8a60"/><circle cx="327" cy="631" r="2.5"/><circle cx="335" cy="635" r="2.5" fill="#7a8a50"/><circle cx="293" cy="667" r="4.5"/><circle cx="303" cy="672" r="5"/><circle cx="317" cy="672" r="1.8" fill="#999"/><circle cx="325" cy="685" r="1.8" fill="#999"/><circle cx="313" cy="685" r="1.8" fill="#999"/>
<text class="lbl" x="293" y="702" textLength="40" lengthAdjust="spacingAndGlyphs">Arctic</text>
<text class="lbl" x="293" y="723" textLength="89" lengthAdjust="spacingAndGlyphs">Zooplankton</text>
</g>
<g id="n-arctic-biogeochemistry" fill="#a0d8d8">
<circle cx="210" cy="705" r="1.8"/><circle cx="222" cy="718" r="1.5"/><circle cx="243" cy="700" r="1.8"/><circle cx="214" cy="757" r="1.5"/><circle cx="236" cy="757" r="1.5"/><circle cx="232" cy="740" r="1.5"/>
<text class="lbl" x="54" y="736" textLength="159" lengthAdjust="spacingAndGlyphs">Arctic Biogeochemistry</text>
</g>
</svg>
